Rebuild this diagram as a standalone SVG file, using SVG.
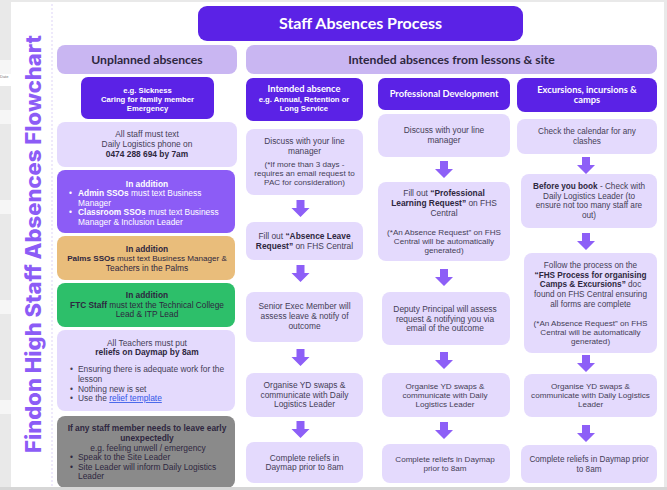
<svg xmlns="http://www.w3.org/2000/svg" width="667" height="490" viewBox="0 0 667 490">
<defs>
<style>
text{font-family:"Liberation Sans","Arial",sans-serif;font-size:8.4px;fill:#453e57;text-anchor:middle}
.b{font-weight:700}
.w{fill:#ffffff}
.dk{fill:#2e2740}
.sm{font-size:8.1px}
.eg{font-size:7.7px}
.c4{font-size:8.2px}
.hd{font-family:"Lato","Liberation Sans",sans-serif;font-size:9.3px;font-weight:700;fill:#ffffff}
.big{font-family:"Lato","Liberation Sans",sans-serif;font-size:12.2px;font-weight:700;fill:#2e2740}
.l{text-anchor:start}
.dark{fill:#5b22e6}
.hdr{fill:#c9b6f2}
.lt{fill:#e4dafd}
.mid{fill:#8c5cf6}
.arr{fill:#8d5ff7}
</style>
<path id="arrow" d="M-4,0 H4 V8 H9 L0,17 L-9,8 H-4 Z"/>
</defs>
<rect x="0" y="0" width="667" height="490" fill="#e9e9e9"/>
<rect x="0" y="60" width="12" height="14" fill="#f6f6f6"/>
<rect x="0" y="74" width="12" height="12" fill="#ffffff"/>
<rect x="0" y="110" width="12" height="14" fill="#f6f6f6"/>
<rect x="0" y="200" width="12" height="14" fill="#f6f6f6"/>
<rect x="0" y="300" width="12" height="14" fill="#f6f6f6"/>
<rect x="0" y="400" width="12" height="14" fill="#f6f6f6"/>
<text x="0" y="78" class="l" style="font-size:4px;fill:#777">Date</text>
<rect x="11" y="2" width="653" height="485" fill="#ffffff"/>
<line x1="52" y1="4" x2="52" y2="487" stroke="#d4c8f5" stroke-width="0.8" stroke-dasharray="2,2"/>
<text transform="translate(41,453) rotate(-90)" class="l" style="font-family:'Inter','Liberation Sans',sans-serif;font-size:21px;font-weight:800;fill:#8c5cf6" textLength="418" lengthAdjust="spacingAndGlyphs">Findon High Staff Absences Flowchart</text>

<g id="title"><rect x="198" y="6" width="325" height="35" rx="9" class="dark"/><text x="360.5" y="28.5" class="w" style="font-family:'Lato','Liberation Sans',sans-serif;font-size:16px;font-weight:700">Staff Absences Process</text></g>
<g id="hdr-unplanned"><rect x="57" y="45" width="180" height="29" rx="8" class="hdr"/><text x="147" y="63.5" class="big">Unplanned absences</text></g>
<g id="hdr-intended"><rect x="246" y="45" width="411" height="29" rx="8" class="hdr"/><text x="451.5" y="63.5" class="big">Intended absences from lessons &amp; site</text></g>

<g id="u-examples"><rect x="81" y="77" width="133" height="42" rx="7" class="dark"/>
<text x="147.5" y="93" class="w b eg">e.g. Sickness</text><text x="147.5" y="102" class="w b eg">Caring for family member</text><text x="147.5" y="110.5" class="w b eg">Emergency</text></g>
<g id="u-text"><rect x="57" y="122" width="180" height="45" rx="8" class="lt"/>
<text x="147" y="137">All staff must text</text><text x="147" y="147">Daily Logistics phone on</text><text x="147" y="157" class="b dk">0474 288 694 by 7am</text></g>
<g id="u-ssos"><rect x="57" y="170" width="178" height="63" rx="8" class="mid"/>
<text x="147" y="187" class="w b">In addition</text>
<text x="69" y="196" class="w l">•</text><text x="78" y="196" class="w l"><tspan class="b">Admin SSOs</tspan> must text Business</text>
<text x="78" y="206" class="w l">Manager</text>
<text x="69" y="215" class="w l">•</text><text x="78" y="215" class="w l"><tspan class="b">Classroom SSOs</tspan> must text Business</text>
<text x="78" y="225" class="w l">Manager &amp; Inclusion Leader</text></g>
<g id="u-palms"><rect x="57" y="236" width="178" height="44" rx="8" fill="#e9bd7b"/>
<text x="147" y="252" class="b dk">In addition</text>
<text x="147" y="261" class="dk" style="font-size:8.1px"><tspan class="b">Palms SSOs</tspan> must text Business Manager &amp;</text>
<text x="147" y="271" class="dk">Teachers in the Palms</text></g>
<g id="u-ftc"><rect x="57" y="283" width="178" height="44" rx="8" fill="#2dbf6a"/>
<text x="147" y="298" class="b dk">In addition</text>
<text x="147" y="308" class="dk" style="font-size:8.3px"><tspan class="b">FTC Staff</tspan> must text the Technical College</text>
<text x="147" y="317" class="dk">Lead &amp; ITP Lead</text></g>
<g id="u-teachers"><rect x="57" y="330" width="178" height="81" rx="8" class="lt"/>
<text x="147" y="346">All Teachers must put</text>
<text x="147" y="355" class="b dk">reliefs on Daymap by 8am</text>
<text x="70" y="372" class="l">•</text><text x="78" y="372" class="l">Ensuring there is adequate work for the</text>
<text x="78" y="382" class="l">lesson</text>
<text x="70" y="392" class="l">•</text><text x="78" y="392" class="l">Nothing new is set</text>
<text x="70" y="401" class="l">•</text><text x="78" y="401" class="l">Use the <tspan style="fill:#2f55e8;text-decoration:underline">relief template</tspan></text></g>
<g id="u-leave"><rect x="57" y="416" width="178" height="72" rx="8" fill="#8a8a8a"/>
<text x="147" y="431" class="b dk">If any staff member needs to leave early</text>
<text x="147" y="441" class="b dk">unexpectedly</text>
<text x="148" y="451" class="dk">e.g. feeling unwell / emergency</text>
<text x="70" y="460" class="l dk">•</text><text x="78" y="460" class="l dk">Speak to the Site Leader</text>
<text x="70" y="470" class="l dk">•</text><text x="78" y="470" class="l dk">Site Leader will inform Daily Logistics</text>
<text x="78" y="479" class="l dk">Leader</text></g>

<g id="c2-head"><rect x="246" y="78" width="117" height="43" rx="7" class="dark"/>
<text x="304" y="92" class="hd">Intended absence</text><text x="304" y="102" class="w b eg">e.g. Annual, Retention or</text><text x="304" y="111" class="w b eg">Long Service</text></g>
<g id="c2-discuss"><rect x="246" y="129" width="117" height="66" rx="8" class="lt"/>
<text x="304.5" y="144">Discuss with your line</text><text x="304.5" y="154">manager</text>
<text x="304.5" y="167" class="sm">(*If more than 3 days -</text><text x="304.5" y="176" class="sm">requires an email request to</text><text x="304.5" y="185" class="sm">PAC for consideration)</text></g>
<g id="c2-fill"><rect x="246" y="222" width="117" height="38" rx="8" class="lt"/>
<text x="304.5" y="239">Fill out <tspan class="b dk">“Absence Leave</tspan></text><text x="304.5" y="248.5"><tspan class="b dk">Request”</tspan> on FHS Central</text></g>
<g id="c2-senior"><rect x="246" y="292" width="117" height="50" rx="8" class="lt"/>
<text x="304.5" y="309">Senior Exec Member will</text><text x="304.5" y="319">assess leave &amp; notify of</text><text x="304.5" y="329">outcome</text></g>
<g id="c2-organise"><rect x="246" y="373" width="117" height="44" rx="8" class="lt"/>
<text x="304.5" y="388">Organise YD swaps &amp;</text><text x="304.5" y="397.5">communicate with Daily</text><text x="304.5" y="407">Logistics Leader</text></g>
<g id="c2-complete"><rect x="246" y="442" width="117" height="41" rx="8" class="lt"/>
<text x="304.5" y="461">Complete reliefs in</text><text x="304.5" y="470">Daymap prior to 8am</text></g>

<g id="c3-head"><rect x="378" y="78" width="132" height="32" rx="7" class="dark"/>
<text x="444" y="96.5" class="hd">Professional Development</text></g>
<g id="c3-discuss"><rect x="378" y="114" width="132" height="43" rx="8" class="lt"/>
<text x="444" y="133">Discuss with your line</text><text x="444" y="143">manager</text></g>
<g id="c3-fill"><rect x="378" y="182" width="132" height="79" rx="8" class="lt"/>
<text x="444" y="196">Fill out <tspan class="b dk">“Professional</tspan></text><text x="444" y="206"><tspan class="b dk">Learning Request”</tspan> on FHS</text><text x="444" y="215.5">Central</text>
<text x="444" y="235" class="sm">(*An Absence Request” on FHS</text><text x="444" y="244" class="sm">Central will be automatically</text><text x="444" y="253" class="sm">generated)</text></g>
<g id="c3-deputy"><rect x="382" y="292" width="128" height="53" rx="8" class="lt"/>
<text x="445" y="312">Deputy Principal will assess</text><text x="445" y="321.5">request &amp; notifying you via</text><text x="445" y="331">email of the outcome</text></g>
<g id="c3-organise"><rect x="382" y="373" width="128" height="44" rx="8" class="lt"/>
<text x="445" y="389" class="sm">Organise YD swaps &amp;</text><text x="445" y="398" class="sm">communicate with Daily</text><text x="445" y="407" class="sm">Logistics Leader</text></g>
<g id="c3-complete"><rect x="382" y="444" width="128" height="39" rx="8" class="lt"/>
<text x="445" y="462" class="sm">Complete reliefs in Daymap</text><text x="445" y="471" class="sm">prior to 8am</text></g>

<g id="c4-head"><rect x="517" y="78" width="140" height="34" rx="8" class="dark"/>
<text x="587" y="92.5" class="hd">Excursions, incursions &amp;</text><text x="587" y="102.5" class="hd">camps</text></g>
<g id="c4-check"><rect x="517" y="119" width="140" height="35" rx="8" class="lt"/>
<text x="587" y="134" class="c4">Check the calendar for any</text><text x="587" y="144" class="c4">clashes</text></g>
<g id="c4-before"><rect x="521" y="174" width="136" height="54" rx="8" class="lt"/>
<text x="589" y="189" class="c4"><tspan class="b dk">Before you book</tspan> - Check with</text><text x="589" y="198.7" class="c4">Daily Logistics Leader (to</text><text x="589" y="208.4" class="c4">ensure not too many staff are</text><text x="589" y="218" class="c4">out)</text></g>
<g id="c4-follow"><rect x="524" y="253" width="133" height="100" rx="8" class="lt"/>
<text x="590.5" y="268" class="c4">Follow the process on the</text><text x="590.5" y="277.7" class="c4 b dk">“FHS Process for organising</text><text x="590.5" y="287.4" class="c4"><tspan class="b dk">Camps &amp; Excursions”</tspan> doc</text><text x="590.5" y="297.1" class="c4">found on FHS Central ensuring</text><text x="590.5" y="306.8" class="c4">all forms are complete</text>
<text x="590.5" y="326" class="sm">(*An Absence Request” on FHS</text><text x="590.5" y="335" class="sm">Central will be automatically</text><text x="590.5" y="344" class="sm">generated)</text></g>
<g id="c4-organise"><rect x="524" y="374" width="133" height="43" rx="8" class="lt"/>
<text x="590.5" y="388.5" class="sm">Organise YD swaps &amp;</text><text x="590.5" y="397.5" class="sm">communicate with Daily Logistics</text><text x="590.5" y="406.5" class="sm">Leader</text></g>
<g id="c4-complete"><rect x="521" y="445" width="136" height="38" rx="8" class="lt"/>
<text x="589" y="462" class="c4">Complete reliefs in Daymap prior</text><text x="589" y="472" class="c4">to 8am</text></g>

<g id="connectors" class="arr">
<use href="#arrow" x="300.5" y="200"/>
<use href="#arrow" x="300.5" y="265"/>
<use href="#arrow" x="300.5" y="349"/>
<use href="#arrow" x="300.5" y="421"/>
<use href="#arrow" x="444" y="161"/>
<use href="#arrow" x="444" y="269"/>
<use href="#arrow" x="444" y="352"/>
<use href="#arrow" x="444" y="422"/>
<use href="#arrow" x="586" y="157"/>
<use href="#arrow" x="586" y="233"/>
<use href="#arrow" x="586" y="355"/>
<use href="#arrow" x="586" y="425"/>
</g>
<rect x="0" y="487" width="667" height="3" fill="#d6d6d6"/>
</svg>
